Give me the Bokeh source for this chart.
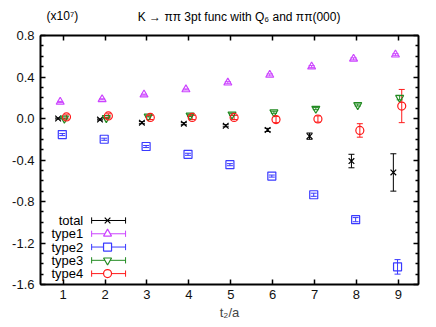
from bokeh.plotting import figure
from bokeh.layouts import column
from bokeh.models import (Range1d, LinearAxis, FixedTicker, PrintfTickFormatter,
                          Whisker, TeeHead, ColumnDataSource, Label)
from bokeh.embed import file_html
from bokeh.resources import INLINE

# ---------------- data ----------------
t = [1, 2, 3, 4, 5, 6, 7, 8, 9]
x_ticks = [1, 2, 3, 4, 5, 6, 7, 8, 9]
y_ticks = [-1.6, -1.2, -0.8, -0.4, 0.0, 0.4, 0.8]
y_minor = [-1.5, -1.4, -1.3, -1.1, -1.0, -0.9, -0.7, -0.6, -0.5, -0.3, -0.2, -0.1,
           0.1, 0.2, 0.3, 0.5, 0.6, 0.7]

names = ["total", "type1", "type2", "type3", "type4"]

total = [0.0, -0.01, -0.04, -0.05, -0.07, -0.11, -0.17, -0.41, -0.52]
total_err = [0.005, 0.005, 0.01, 0.01, 0.01, 0.015, 0.03, 0.065, 0.18]

type1 = [0.16, 0.185, 0.23, 0.28, 0.345, 0.42, 0.50, 0.575, 0.615]
type1_err = [0.005, 0.005, 0.005, 0.005, 0.01, 0.01, 0.01, 0.01, 0.01]

type2 = [-0.155, -0.20, -0.27, -0.345, -0.445, -0.555, -0.735, -0.975, -1.43]
type2_err = [0.01, 0.01, 0.01, 0.01, 0.01, 0.01, 0.015, 0.02, 0.07]

type3 = [0.0, 0.005, 0.02, 0.03, 0.04, 0.06, 0.095, 0.13, 0.20]
type3_err = [0.005, 0.005, 0.005, 0.01, 0.01, 0.01, 0.01, 0.01, 0.02]

type4 = [0.015, 0.025, 0.01, 0.01, 0.01, -0.01, -0.005, -0.115, 0.12]
type4_err = [0.02, 0.02, 0.02, 0.02, 0.02, 0.03, 0.03, 0.065, 0.16]

values = [total, type1, type2, type3, type4]
errors = [total_err, type1_err, type2_err, type3_err, type4_err]

title_text = "K \u2192 \u03c0\u03c0 3pt func with Q\u2086 and \u03c0\u03c0(000)"
scale_text = "(x10\u2077)"
x_label = "t\u2082/a"

# ---------------- styles ----------------
colors = ["#000000", "#cc44ff", "#3a3aff", "#228b22", "#ff1a1a"]
markers = ["x", "triangle", "square", "inverted_triangle", "circle"]
offsets = [-0.12, -0.07, -0.02, 0.03, 0.08]
FONT = "Liberation Sans"
HEADER_H = 25

# ---------------- header strip (title and scale note) ----------------
head = figure(width=434, height=HEADER_H, output_backend="svg", toolbar_location=None,
              x_range=Range1d(0, 434), y_range=Range1d(0, HEADER_H),
              min_border=0, outline_line_color=None)
head.xaxis.visible = False
head.yaxis.visible = False
head.xgrid.visible = False
head.ygrid.visible = False
head.add_layout(Label(x=228, y=HEADER_H - 16, text=title_text, text_align="center",
                      text_baseline="middle", text_font=FONT, text_font_size="12px",
                      text_color="black"))
head.add_layout(Label(x=7, y=HEADER_H - 15, text=scale_text, text_align="left",
                      text_baseline="middle", text_font=FONT, text_font_size="12px",
                      text_color="black"))

# ---------------- main plot ----------------
p = figure(width=434, height=300, output_backend="svg", toolbar_location=None,
           x_range=Range1d(0.46, 9.48), y_range=Range1d(-1.6, 0.8),
           min_border_left=40, min_border_right=16, min_border_top=10,
           min_border_bottom=41, frame_width=378, frame_height=249)
p.xgrid.visible = False
p.ygrid.visible = False
p.outline_line_color = "black"
p.outline_line_width = 1
p.background_fill_color = "white"
p.border_fill_color = "white"


def style_axis(ax, labels=True):
    ax.axis_line_width = 2
    ax.axis_line_color = "black"
    ax.major_tick_in = 5
    ax.major_tick_out = 0
    ax.minor_tick_in = 3
    ax.minor_tick_out = 0
    ax.major_tick_line_width = 1.5
    ax.minor_tick_line_width = 1.5
    ax.major_label_text_font = FONT
    if labels:
        ax.major_label_text_font_size = "13px"
        ax.major_label_text_color = "#111111"
        ax.major_label_standoff = 6
    else:
        ax.major_label_text_font_size = "1px"
        ax.major_label_text_color = None
        ax.major_label_standoff = 0


p.xaxis.ticker = FixedTicker(ticks=x_ticks)
p.yaxis.ticker = FixedTicker(ticks=y_ticks, minor_ticks=y_minor)
p.yaxis.formatter = PrintfTickFormatter(format="%.1f")
style_axis(p.xaxis[0])
style_axis(p.yaxis[0])
p.xaxis.major_label_standoff = 5
p.xaxis.axis_label = x_label
p.xaxis.axis_label_text_font = FONT
p.xaxis.axis_label_text_font_style = "normal"
p.xaxis.axis_label_text_font_size = "13px"
p.xaxis.axis_label_standoff = 3

top = LinearAxis(ticker=FixedTicker(ticks=x_ticks))
style_axis(top, labels=False)
p.add_layout(top, "above")
right = LinearAxis(ticker=FixedTicker(ticks=y_ticks, minor_ticks=y_minor))
style_axis(right, labels=False)
p.add_layout(right, "right")

for name, vals, errs, col, mk, off in zip(names, values, errors, colors, markers, offsets):
    xs = [ti + off for ti in t]
    src = ColumnDataSource(dict(x=xs, y=vals,
                                upper=[v + e for v, e in zip(vals, errs)],
                                lower=[v - e for v, e in zip(vals, errs)]))
    w = Whisker(source=src, base="x", upper="upper", lower="lower", dimension="height",
                line_color=col, line_width=1,
                upper_head=TeeHead(size=6, line_color=col, line_width=1),
                lower_head=TeeHead(size=6, line_color=col, line_width=1))
    p.add_layout(w)
    p.scatter("x", "y", source=src, marker=mk, size=8,
              fill_color=None, line_color=col, line_width=1.2)

# legend: label left, sample right (gnuplot style)
LEG_TEXT_X = 1.48
LEG_X0, LEG_X1, LEG_XM = 1.68, 2.49, 2.06
LEG_Y0, LEG_DY, CAP = -0.983, 0.128, 0.03
for i, (name, col, mk) in enumerate(zip(names, colors, markers)):
    yy = LEG_Y0 - i * LEG_DY
    p.segment(x0=[LEG_X0], y0=[yy], x1=[LEG_X1], y1=[yy], line_color=col, line_width=1)
    p.segment(x0=[LEG_X0, LEG_X1], y0=[yy - CAP, yy - CAP], x1=[LEG_X0, LEG_X1],
              y1=[yy + CAP, yy + CAP], line_color=col, line_width=1)
    p.scatter(x=[LEG_XM], y=[yy], marker=mk, size=8, fill_color="white",
              line_color=col, line_width=1.2)
    p.add_layout(Label(x=LEG_TEXT_X, y=yy, text=name, text_align="right",
                       text_baseline="middle", text_font=FONT, text_font_size="13px",
                       text_color="black"))

layout = column(head, p, spacing=0)
open("out.html", "w").write(file_html(layout, INLINE))
